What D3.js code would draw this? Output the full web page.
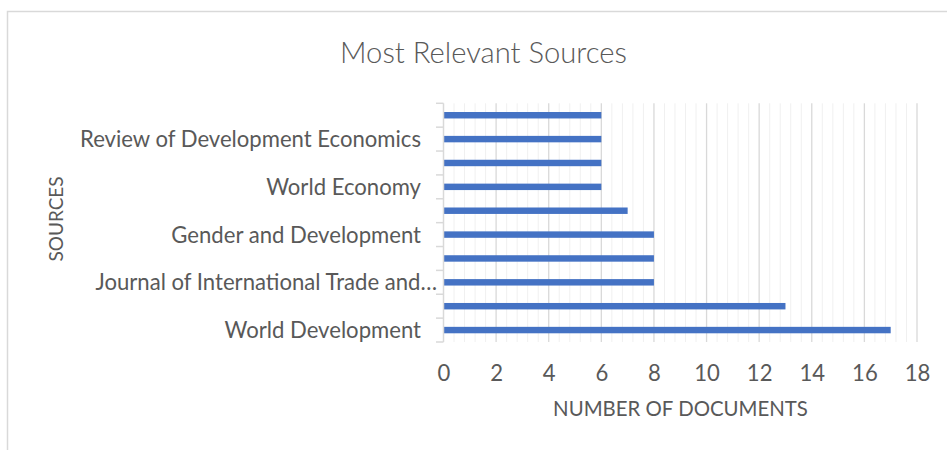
<!DOCTYPE html>
<html><head><meta charset="utf-8">
<script src="https://cdn.jsdelivr.net/npm/d3@7"></script>
<style>
html,body{margin:0;padding:0;background:#fff;}
svg text{font-family:"Lato","Open Sans",sans-serif;fill:#595959;}
</style></head>
<body><svg id="c" width="947" height="450"></svg>
<script>
// Data (bottom to top, as in the chart)
const categories = [
  "World Development",
  "Feminist Economics",
  "Journal of International Trade and…",
  "Journal of Development Studies",
  "Gender and Development",
  "Applied Economics",
  "World Economy",
  "Journal of International Development",
  "Review of Development Economics",
  "Sustainability"
];
const documents = [17, 13, 8, 8, 8, 7, 6, 6, 6, 6];
const xTickValues = [0, 2, 4, 6, 8, 10, 12, 14, 16, 18];
const titleText = "Most Relevant Sources";
const xTitle = "NUMBER OF DOCUMENTS";
const yTitle = "SOURCES";

const svg = d3.select("#c");
const W = 947, H = 450;
const plot = {left: 443.5, right: 917, top: 103.3, bottom: 342};

// outer chart border
svg.append("path")
  .attr("d", `M7.5,${H+5} V11.5 H${W+5}`)
  .attr("fill", "none").attr("stroke", "#d9d9d9").attr("stroke-width", 1.5);

const x = d3.scaleLinear().domain([0, 18]).range([plot.left, plot.right]);
const y = d3.scaleBand().domain(d3.range(categories.length))
  .range([plot.bottom, plot.top]).paddingInner(0).paddingOuter(0);

// minor gridlines every 0.4
const minor = d3.range(0, 18.0001, 0.4).filter(v => Math.abs(v/2 - Math.round(v/2)) > 1e-6);
svg.append("g").selectAll("line").data(minor).join("line")
  .attr("x1", d => x(d)).attr("x2", d => x(d))
  .attr("y1", plot.top).attr("y2", plot.bottom)
  .attr("stroke", "#f0f0f0").attr("stroke-width", 1);

// major gridlines
svg.append("g").selectAll("line").data(xTickValues.filter(v => v > 0)).join("line")
  .attr("x1", d => x(d)).attr("x2", d => x(d))
  .attr("y1", plot.top).attr("y2", plot.bottom)
  .attr("stroke", "#d9d9d9").attr("stroke-width", 1.3);

// bars
const barH = y.bandwidth() * 0.27;
svg.append("g").selectAll("rect").data(documents).join("rect")
  .attr("x", x(0))
  .attr("y", (d, i) => y(i) + y.bandwidth()/2 - barH/2)
  .attr("width", d => x(d) - x(0))
  .attr("height", barH)
  .attr("fill", "#4472C4");

// y axis (category axis) with ticks at band boundaries
const yAxisG = svg.append("g").attr("transform", `translate(${plot.left},0)`);
yAxisG.append("line").attr("x1", 0).attr("x2", 0)
  .attr("y1", plot.top).attr("y2", plot.bottom)
  .attr("stroke", "#d9d9d9").attr("stroke-width", 1.5);
const boundaries = d3.range(categories.length + 1).map(i => i < categories.length ? y(i) + y.bandwidth() : plot.top);
yAxisG.selectAll("line.tk").data(boundaries).join("line").attr("class", "tk")
  .attr("x1", -7.5).attr("x2", 0)
  .attr("y1", d => d).attr("y2", d => d)
  .attr("stroke", "#d9d9d9").attr("stroke-width", 1.5);

// helper: fit font size to target width
function fit(sel, target) {
  const base = parseFloat(sel.attr("font-size"));
  const w = sel.node().getComputedTextLength();
  const fs = base * target / w;
  sel.attr("font-size", fs);
  return fs;
}

// category labels (every other, like the original)
const probe = svg.append("text").attr("font-size", 20).text("Review of Development Economics");
const labelFs = fit(probe, 341);
probe.remove();

svg.append("g").selectAll("text")
  .data(categories.map((c, i) => ({c, i})).filter(d => d.i % 2 === 0))
  .join("text")
  .attr("x", d => d.c.endsWith("…") ? 437 : 421)
  .attr("y", d => y(d.i) + y.bandwidth()/2)
  .attr("dy", "0.36em")
  .attr("text-anchor", "end")
  .attr("font-size", labelFs)
  .text(d => d.c);

// x axis tick labels
const xAxis = d3.axisBottom(x).tickValues(xTickValues).tickSize(0).tickPadding(0);
const xg = svg.append("g").attr("transform", `translate(0,373)`).call(xAxis);
xg.select(".domain").remove();
xg.selectAll("text").attr("font-size", labelFs).attr("dy", "0.36em").attr("y", 0)
  .attr("font-family", "Lato, 'Open Sans', sans-serif").style("fill", "#595959");

// title
const t = svg.append("text").attr("x", 483.5).attr("y", 52).attr("dy", "0.36em")
  .attr("text-anchor", "middle").attr("font-size", 26).attr("font-weight", 300).text(titleText);
fit(t, 287);

// axis titles
const xt = svg.append("text").attr("x", 680.5).attr("y", 409).attr("dy", "0.36em")
  .attr("text-anchor", "middle").attr("font-size", 20).text(xTitle);
fit(xt, 255);

const yt = svg.append("text")
  .attr("transform", "translate(56,219) rotate(-90)")
  .attr("dy", "0.36em").attr("text-anchor", "middle").attr("font-size", 19).text(yTitle);
</script>
</body></html>
